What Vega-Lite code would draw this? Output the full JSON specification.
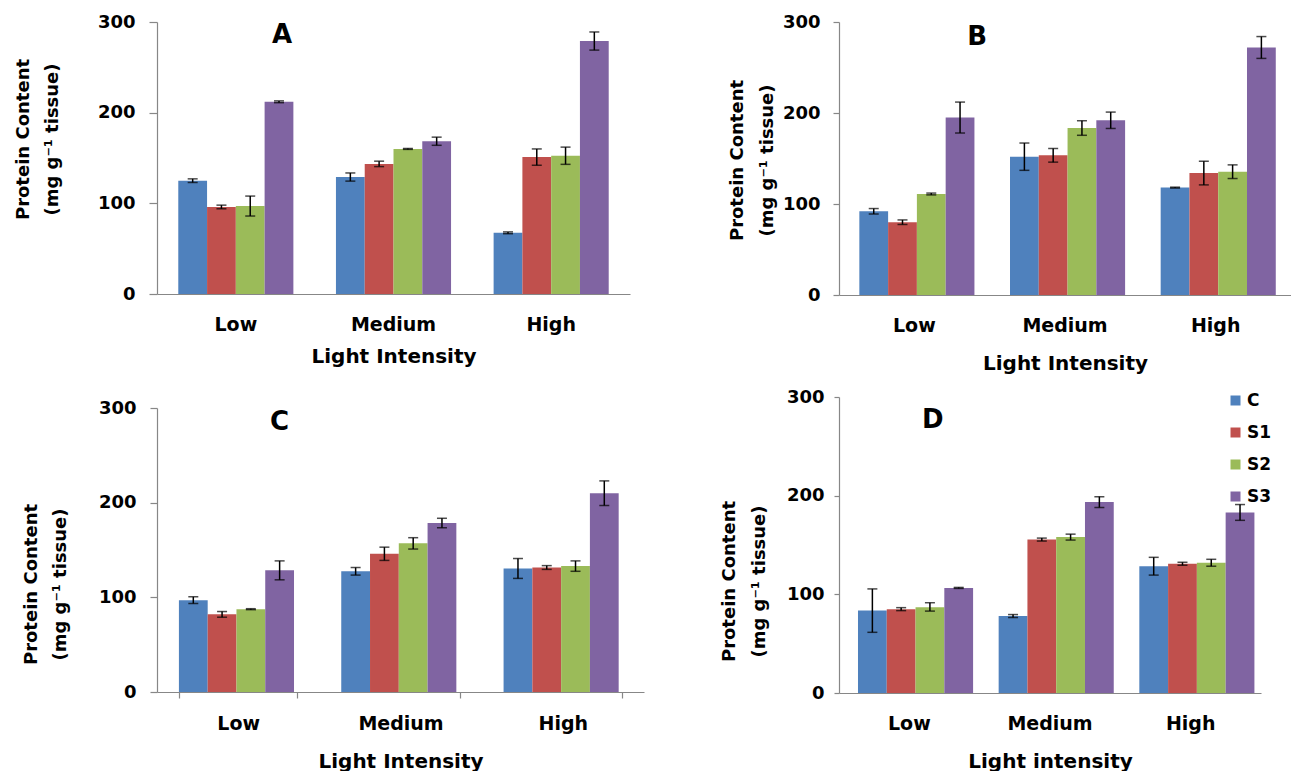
{
  "$schema": "https://vega.github.io/schema/vega-lite/v6.json",
  "padding": {"left": 14, "top": 13, "right": 0, "bottom": 0},
  "background": "white",
  "datasets": {
    "A": [
      {"intensity": "Low", "series": "C", "value": 125, "lo": 123, "hi": 127},
      {"intensity": "Low", "series": "S1", "value": 96, "lo": 94, "hi": 98},
      {"intensity": "Low", "series": "S2", "value": 97, "lo": 86, "hi": 108},
      {"intensity": "Low", "series": "S3", "value": 212, "lo": 211, "hi": 213},
      {"intensity": "Medium", "series": "C", "value": 129, "lo": 124.5, "hi": 133.5},
      {"intensity": "Medium", "series": "S1", "value": 143.5, "lo": 140.5, "hi": 146.5},
      {"intensity": "Medium", "series": "S2", "value": 160, "lo": 159.5, "hi": 160.5},
      {"intensity": "Medium", "series": "S3", "value": 168.5, "lo": 164, "hi": 173},
      {"intensity": "High", "series": "C", "value": 67.5, "lo": 66.5, "hi": 68.5},
      {"intensity": "High", "series": "S1", "value": 151, "lo": 142, "hi": 160},
      {"intensity": "High", "series": "S2", "value": 152.5, "lo": 143, "hi": 162},
      {"intensity": "High", "series": "S3", "value": 279, "lo": 269, "hi": 289}
    ],
    "B": [
      {"intensity": "Low", "series": "C", "value": 92, "lo": 89, "hi": 95},
      {"intensity": "Low", "series": "S1", "value": 80, "lo": 77.5, "hi": 82.5},
      {"intensity": "Low", "series": "S2", "value": 111, "lo": 110, "hi": 112},
      {"intensity": "Low", "series": "S3", "value": 195, "lo": 178, "hi": 212},
      {"intensity": "Medium", "series": "C", "value": 152, "lo": 137, "hi": 167},
      {"intensity": "Medium", "series": "S1", "value": 153.5, "lo": 146, "hi": 161},
      {"intensity": "Medium", "series": "S2", "value": 183.5, "lo": 175.5, "hi": 191.5},
      {"intensity": "Medium", "series": "S3", "value": 192, "lo": 183, "hi": 201},
      {"intensity": "High", "series": "C", "value": 118, "lo": 117.5, "hi": 118.5},
      {"intensity": "High", "series": "S1", "value": 134, "lo": 121, "hi": 147},
      {"intensity": "High", "series": "S2", "value": 135.5, "lo": 128, "hi": 143},
      {"intensity": "High", "series": "S3", "value": 272, "lo": 260, "hi": 284}
    ],
    "C": [
      {"intensity": "Low", "series": "C", "value": 97, "lo": 93.5, "hi": 100.5},
      {"intensity": "Low", "series": "S1", "value": 82, "lo": 79, "hi": 85},
      {"intensity": "Low", "series": "S2", "value": 87.5, "lo": 87, "hi": 88},
      {"intensity": "Low", "series": "S3", "value": 128.5, "lo": 118.5, "hi": 138.5},
      {"intensity": "Medium", "series": "C", "value": 127.5, "lo": 123.5, "hi": 131.5},
      {"intensity": "Medium", "series": "S1", "value": 146, "lo": 139, "hi": 153},
      {"intensity": "Medium", "series": "S2", "value": 157, "lo": 151, "hi": 163},
      {"intensity": "Medium", "series": "S3", "value": 178.5, "lo": 173.5, "hi": 183.5},
      {"intensity": "High", "series": "C", "value": 130.5, "lo": 120, "hi": 141},
      {"intensity": "High", "series": "S1", "value": 131.5, "lo": 129.5, "hi": 133.5},
      {"intensity": "High", "series": "S2", "value": 133, "lo": 127.5, "hi": 138.5},
      {"intensity": "High", "series": "S3", "value": 210, "lo": 197, "hi": 223}
    ],
    "D": [
      {"intensity": "Low", "series": "C", "value": 83.5, "lo": 61.5, "hi": 105.5},
      {"intensity": "Low", "series": "S1", "value": 85, "lo": 83.5, "hi": 86.5},
      {"intensity": "Low", "series": "S2", "value": 87, "lo": 83, "hi": 91.5},
      {"intensity": "Low", "series": "S3", "value": 106.5, "lo": 106, "hi": 107},
      {"intensity": "Medium", "series": "C", "value": 78, "lo": 76.5, "hi": 79.5},
      {"intensity": "Medium", "series": "S1", "value": 155.5, "lo": 154, "hi": 157},
      {"intensity": "Medium", "series": "S2", "value": 158, "lo": 155, "hi": 161},
      {"intensity": "Medium", "series": "S3", "value": 193.5, "lo": 188, "hi": 199},
      {"intensity": "High", "series": "C", "value": 128.5, "lo": 119.5, "hi": 137.5},
      {"intensity": "High", "series": "S1", "value": 131, "lo": 129.5, "hi": 132.5},
      {"intensity": "High", "series": "S2", "value": 132, "lo": 128.5, "hi": 135.5},
      {"intensity": "High", "series": "S3", "value": 183, "lo": 175, "hi": 191}
    ]
  },
  "hconcat": [
    {
      "spacing": 33,
      "resolve": {"scale": {"color": "independent"}, "legend": {"color": "independent"}},
      "vconcat": [
        {
          "width": 473, "height": 272,
          "data": {"name": "A"},
          "encoding": {
            "x": {"field": "intensity", "type": "nominal", "sort": ["Low", "Medium", "High"], "scale": {"paddingInner": 0.27, "paddingOuter": 0.135},
                  "axis": {"title": "Light Intensity", "labelAngle": 0, "ticks": false, "labelPadding": 21, "labelFontSize": 19, "titleFontSize": 20, "titlePadding": 12}},
            "xOffset": {"field": "series", "type": "nominal", "sort": ["C", "S1", "S2", "S3"], "scale": {"paddingInner": 0, "paddingOuter": 0}}
          },
          "layer": [
            {"mark": {"type": "bar"},
             "encoding": {
               "y": {"field": "value", "type": "quantitative", "scale": {"domain": [0, 300], "nice": false},
                     "axis": {"title": ["Protein Content", "(mg g⁻¹ tissue)"], "values": [0, 100, 200, 300], "tickSize": 8, "labelPadding": 14, "labelFontSize": 18, "titleFontSize": 18, "titleLineHeight": 29, "titlePadding": 36, "titleY": 117}},
               "color": {"field": "series", "type": "nominal", "scale": {"domain": ["C", "S1", "S2", "S3"], "range": ["#4F81BD", "#C0504D", "#9BBB59", "#8064A2"]}, "legend": null}
             }},
            {"mark": {"type": "rule", "color": "black", "strokeWidth": 1.5}, "encoding": {"y": {"field": "lo", "type": "quantitative"}, "y2": {"field": "hi"}}},
            {"mark": {"type": "tick", "color": "black", "thickness": 1.5, "size": 10}, "encoding": {"y": {"field": "lo", "type": "quantitative"}}},
            {"mark": {"type": "tick", "color": "black", "thickness": 1.5, "size": 10}, "encoding": {"y": {"field": "hi", "type": "quantitative"}}},
            {"data": {"values": [{"panel": "A"}]},
             "mark": {"type": "text", "font": "DejaVu Sans", "fontWeight": "bold", "fontSize": 26, "color": "black", "baseline": "alphabetic", "align": "center", "dx": 3},
             "encoding": {"x": {"datum": "Low"}, "xOffset": {"datum": "S3"}, "y": {"datum": 277}, "text": {"field": "panel"}}}
          ]
        },
        {
          "width": 487, "height": 284,
          "data": {"name": "C"},
          "encoding": {
            "x": {"field": "intensity", "type": "nominal", "sort": ["Low", "Medium", "High"], "scale": {"paddingInner": 0.27, "paddingOuter": 0.135},
                  "axis": {"title": "Light Intensity", "labelAngle": 0, "ticks": true, "tickBand": "extent", "tickSize": 6, "labelPadding": 16, "labelFontSize": 19, "titleFontSize": 20, "titlePadding": 18}},
            "xOffset": {"field": "series", "type": "nominal", "sort": ["C", "S1", "S2", "S3"], "scale": {"paddingInner": 0, "paddingOuter": 0}}
          },
          "layer": [
            {"mark": {"type": "bar"},
             "encoding": {
               "y": {"field": "value", "type": "quantitative", "scale": {"domain": [0, 300], "nice": false},
                     "axis": {"title": ["Protein Content", "(mg g⁻¹ tissue)"], "values": [0, 100, 200, 300], "tickSize": 7, "labelPadding": 14, "labelFontSize": 18, "titleFontSize": 18, "titleLineHeight": 29, "titlePadding": 29, "titleY": 176}},
               "color": {"field": "series", "type": "nominal", "scale": {"domain": ["C", "S1", "S2", "S3"], "range": ["#4F81BD", "#C0504D", "#9BBB59", "#8064A2"]}, "legend": null}
             }},
            {"mark": {"type": "rule", "color": "black", "strokeWidth": 1.5}, "encoding": {"y": {"field": "lo", "type": "quantitative"}, "y2": {"field": "hi"}}},
            {"mark": {"type": "tick", "color": "black", "thickness": 1.5, "size": 10}, "encoding": {"y": {"field": "lo", "type": "quantitative"}}},
            {"mark": {"type": "tick", "color": "black", "thickness": 1.5, "size": 10}, "encoding": {"y": {"field": "hi", "type": "quantitative"}}},
            {"data": {"values": [{"panel": "C"}]},
             "mark": {"type": "text", "font": "DejaVu Sans", "fontWeight": "bold", "fontSize": 26, "color": "black", "baseline": "alphabetic", "align": "center", "dx": 0},
             "encoding": {"x": {"datum": "Low"}, "xOffset": {"datum": "S3"}, "y": {"datum": 277}, "text": {"field": "panel"}}}
          ]
        }
      ]
    },
    {
      "spacing": 15,
      "resolve": {"scale": {"color": "independent"}, "legend": {"color": "independent"}},
      "vconcat": [
        {
          "width": 452, "height": 273,
          "data": {"name": "B"},
          "encoding": {
            "x": {"field": "intensity", "type": "nominal", "sort": ["Low", "Medium", "High"], "scale": {"paddingInner": 0.27, "paddingOuter": 0.135},
                  "axis": {"title": "Light Intensity", "labelAngle": 0, "ticks": false, "labelPadding": 21, "labelFontSize": 19, "titleFontSize": 20, "titlePadding": 18}},
            "xOffset": {"field": "series", "type": "nominal", "sort": ["C", "S1", "S2", "S3"], "scale": {"paddingInner": 0, "paddingOuter": 0}}
          },
          "layer": [
            {"mark": {"type": "bar"},
             "encoding": {
               "y": {"field": "value", "type": "quantitative", "scale": {"domain": [0, 300], "nice": false},
                     "axis": {"title": ["Protein Content", "(mg g⁻¹ tissue)"], "values": [0, 100, 200, 300], "tickSize": 6, "labelPadding": 13, "labelFontSize": 18, "titleFontSize": 18, "titleLineHeight": 30, "titlePadding": 6, "titleY": 138}},
               "color": {"field": "series", "type": "nominal", "scale": {"domain": ["C", "S1", "S2", "S3"], "range": ["#4F81BD", "#C0504D", "#9BBB59", "#8064A2"]}, "legend": null}
             }},
            {"mark": {"type": "rule", "color": "black", "strokeWidth": 1.5}, "encoding": {"y": {"field": "lo", "type": "quantitative"}, "y2": {"field": "hi"}}},
            {"mark": {"type": "tick", "color": "black", "thickness": 1.5, "size": 10}, "encoding": {"y": {"field": "lo", "type": "quantitative"}}},
            {"mark": {"type": "tick", "color": "black", "thickness": 1.5, "size": 10}, "encoding": {"y": {"field": "hi", "type": "quantitative"}}},
            {"data": {"values": [{"panel": "B"}]},
             "mark": {"type": "text", "font": "DejaVu Sans", "fontWeight": "bold", "fontSize": 26, "color": "black", "baseline": "alphabetic", "align": "center", "dx": 17},
             "encoding": {"x": {"datum": "Low"}, "xOffset": {"datum": "S3"}, "y": {"datum": 275}, "text": {"field": "panel"}}}
          ]
        },
        {
          "width": 422, "height": 296,
          "data": {"name": "D"},
          "encoding": {
            "x": {"field": "intensity", "type": "nominal", "sort": ["Low", "Medium", "High"], "scale": {"paddingInner": 0.27, "paddingOuter": 0.135},
                  "axis": {"title": "Light intensity", "labelAngle": 0, "ticks": false, "labelPadding": 21, "labelFontSize": 19, "titleFontSize": 20, "titlePadding": 18}},
            "xOffset": {"field": "series", "type": "nominal", "sort": ["C", "S1", "S2", "S3"], "scale": {"paddingInner": 0, "paddingOuter": 0}}
          },
          "layer": [
            {"mark": {"type": "bar"},
             "encoding": {
               "y": {"field": "value", "type": "quantitative", "scale": {"domain": [0, 300], "nice": false},
                     "axis": {"title": ["Protein Content", "(mg g⁻¹ tissue)"], "values": [0, 100, 200, 300], "tickSize": 5, "labelPadding": 10, "labelFontSize": 18, "titleFontSize": 18, "titleLineHeight": 30, "titlePadding": 18, "titleY": 184}},
               "color": {"field": "series", "type": "nominal", "scale": {"domain": ["C", "S1", "S2", "S3"], "range": ["#4F81BD", "#C0504D", "#9BBB59", "#8064A2"]},
                         "legend": {"orient": "none", "legendX": 388, "legendY": -5, "title": null, "symbolType": "square", "symbolSize": 100, "symbolStrokeWidth": 0, "labelFont": "DejaVu Sans", "labelFontWeight": "bold", "labelFontSize": 17, "labelColor": "black", "rowPadding": 14, "labelOffset": 3}}
             }},
            {"mark": {"type": "rule", "color": "black", "strokeWidth": 1.5}, "encoding": {"y": {"field": "lo", "type": "quantitative"}, "y2": {"field": "hi"}}},
            {"mark": {"type": "tick", "color": "black", "thickness": 1.5, "size": 10}, "encoding": {"y": {"field": "lo", "type": "quantitative"}}},
            {"mark": {"type": "tick", "color": "black", "thickness": 1.5, "size": 10}, "encoding": {"y": {"field": "hi", "type": "quantitative"}}},
            {"data": {"values": [{"panel": "D"}]},
             "mark": {"type": "text", "font": "DejaVu Sans", "fontWeight": "bold", "fontSize": 26, "color": "black", "baseline": "alphabetic", "align": "center", "dx": -26},
             "encoding": {"x": {"datum": "Low"}, "xOffset": {"datum": "S3"}, "y": {"datum": 269}, "text": {"field": "panel"}}}
          ]
        }
      ]
    }
  ],
  "spacing": 76,
  "resolve": {"scale": {"color": "independent"}, "legend": {"color": "independent"}},
  "config": {
    "view": {"stroke": null},
    "font": "DejaVu Sans",
    "axis": {"labelFont": "DejaVu Sans", "labelFontWeight": "bold", "labelColor": "black", "titleFont": "DejaVu Sans", "titleFontWeight": "bold", "titleColor": "black", "domainColor": "#878787", "tickColor": "#878787", "grid": false, "domainWidth": 1.2, "tickWidth": 1.2}
  }
}
